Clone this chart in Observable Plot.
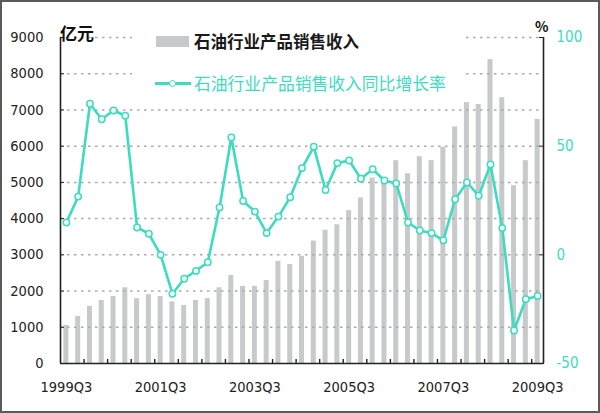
<!DOCTYPE html>
<html><head><meta charset="utf-8">
<script src="https://cdn.jsdelivr.net/npm/d3@7"></script>
<script src="https://cdn.jsdelivr.net/npm/@observablehq/plot@0.6"></script>
<style>
body{margin:0;background:#fff;}
#wrap{position:relative;width:600px;height:413px;overflow:hidden;background:#fff;}
#frame{position:absolute;left:0;top:0;width:600px;height:413px;box-sizing:border-box;border:2px solid #5a5a5a;pointer-events:none;}
.lbl{position:absolute;white-space:nowrap;font-family:"Noto Sans CJK SC",sans-serif;line-height:1;}
svg{font-family:"Liberation Sans Narrow","Arial Narrow","DejaVu Sans Condensed",sans-serif;}
</style></head><body>
<div id="wrap"></div>
<script>
const quarters = [
 "1999Q3","1999Q4","2000Q1","2000Q2","2000Q3","2000Q4","2001Q1","2001Q2","2001Q3","2001Q4",
 "2002Q1","2002Q2","2002Q3","2002Q4","2003Q1","2003Q2","2003Q3","2003Q4","2004Q1","2004Q2",
 "2004Q3","2004Q4","2005Q1","2005Q2","2005Q3","2005Q4","2006Q1","2006Q2","2006Q3","2006Q4",
 "2007Q1","2007Q2","2007Q3","2007Q4","2008Q1","2008Q2","2008Q3","2008Q4","2009Q1","2009Q2","2009Q3"];
const revenue = [1050,1300,1580,1740,1850,2090,1790,1900,1850,1700,
 1600,1740,1790,2090,2430,2130,2130,2290,2820,2730,
 2960,3380,3680,3830,4220,4570,5120,5000,5600,5240,
 5710,5600,5970,6530,7200,7150,8390,7340,4910,5600,6740];
const growth = [14.9,26.8,69.5,62.4,66.4,64.0,12.6,9.7,0,-17.9,
 -11.0,-7.4,-3.4,21.8,54.0,24.8,19.9,10.0,17.6,26.5,
 39.9,49.7,29.8,42.2,43.4,35.0,39.4,34.2,32.8,14.9,
 11.2,10.0,6.7,25.6,33.3,27.2,41.6,12.3,-34.8,-20.4,-18.9];
const leftTicks = [0,1000,2000,3000,4000,5000,6000,7000,8000,9000];
const rightTicks = [-50,0,50,100];
const xLabels = ["1999Q3","2001Q3","2003Q3","2005Q3","2007Q3","2009Q3"];
const barName = "石油行业产品销售收入";
const lineName = "石油行业产品销售收入同比增长率";
const leftUnit = "亿元";
const rightUnit = "%";

const teal = "#3ddcbf";
const W = 600, H = 413, mL = 60, mR = 57, mT = 37, mB = 50;
const pInner = 0.575, pOuter = pInner / 2;
const step = (W - mL - mR) / (quarters.length - pInner + 2 * pOuter);
// right axis (%) expressed on the left-axis scale: -50 -> 0, 100 -> 9000
const toLeft = r => 3000 + r * 60;
const fromLeft = v => String(Math.round((v - 3000) / 60));

const data = quarters.map((q, i) => ({q, rev: revenue[i], g: growth[i]}));
const boundaryQuarters = quarters.filter((q, i) => i > 0 && i % 2 === 0);

const chart = Plot.plot({
  width: W, height: H,
  marginLeft: mL, marginRight: mR, marginTop: mT, marginBottom: mB,
  style: {background: "transparent", overflow: "visible"},
  x: {type: "band", domain: quarters, paddingInner: pInner, paddingOuter: pOuter, axis: null},
  y: {domain: [0, 9000], axis: null},
  marks: [
    Plot.barY(data, {x: "q", y: "rev", fill: "#c6caca"}),
    Plot.gridY({ticks: leftTicks.slice(1), stroke: "#aaaaaa", strokeOpacity: 1, strokeDasharray: "2.5,4.5", strokeWidth: 1.5}),
    Plot.ruleY([0], {stroke: "#222", strokeWidth: 1.6}),
    Plot.ruleX([quarters[0]], {stroke: "#222", strokeWidth: 1.6, dx: -step / 2}),
    Plot.ruleX([quarters[quarters.length - 1]], {stroke: "#222", strokeWidth: 1.6, dx: step / 2}),
    Plot.ruleX(boundaryQuarters, {x: d => d, y1: 0, y2: 110, dx: -step / 2, stroke: "#222", strokeWidth: 1.4}),
    Plot.axisY({anchor: "left", ticks: leftTicks, tickSize: -4, tickPadding: 21, tickFormat: d => String(d), fontSize: 14.5, color: "#222", label: null}),
    Plot.axisY({anchor: "right", ticks: rightTicks.map(toLeft), tickSize: -5, tickFormat: () => "", color: "#222", label: null}),
    Plot.axisY({anchor: "right", ticks: rightTicks.map(toLeft), tickSize: 0, tickPadding: 13, tickFormat: fromLeft, fontSize: 15, color: teal, label: null}),
    Plot.axisX({ticks: xLabels, tickSize: 0, tickPadding: 18, fontSize: 14.5, color: "#222", label: null}),
    Plot.line(data, {x: "q", y: d => toLeft(d.g), stroke: teal, strokeWidth: 2.6}),
    Plot.dot(data, {x: "q", y: d => toLeft(d.g), r: 3.2, fill: "white", stroke: teal, strokeWidth: 1.5})
  ]
});

const wrap = document.getElementById("wrap");
chart.style.position = "absolute"; chart.style.left = "0"; chart.style.top = "0";
wrap.appendChild(chart);

function addLabel(text, left, top, size, color, weight) {
  const d = document.createElement("div");
  d.className = "lbl";
  d.textContent = text;
  Object.assign(d.style, {left: left + "px", top: top + "px", fontSize: size + "px", color, fontWeight: weight || "normal"});
  wrap.appendChild(d);
  return d;
}
function addBox(left, top, w, h, bg, extra) {
  const d = document.createElement("div");
  Object.assign(d.style, {position: "absolute", left: left + "px", top: top + "px", width: w + "px", height: h + "px", background: bg}, extra || {});
  wrap.appendChild(d);
  return d;
}
addLabel(leftUnit, 60, 24, 17, "#111", "bold");
addLabel(rightUnit, 535, 19, 14, "#111", "bold");
addBox(132, 29, 330, 70, "white");
addBox(156, 36, 33, 11, "#c6caca");
addLabel(barName, 194, 33, 16.5, "#1a1a1a", "bold");
addBox(155, 82, 36, 2.6, teal);
addBox(169, 79.5, 5, 5, "white", {border: "1.5px solid " + teal, borderRadius: "50%"});
addLabel(lineName, 194, 74.5, 16.8, teal, "normal");
const fr = document.createElement("div"); fr.id = "frame"; wrap.appendChild(fr);
</script>
</body></html>
